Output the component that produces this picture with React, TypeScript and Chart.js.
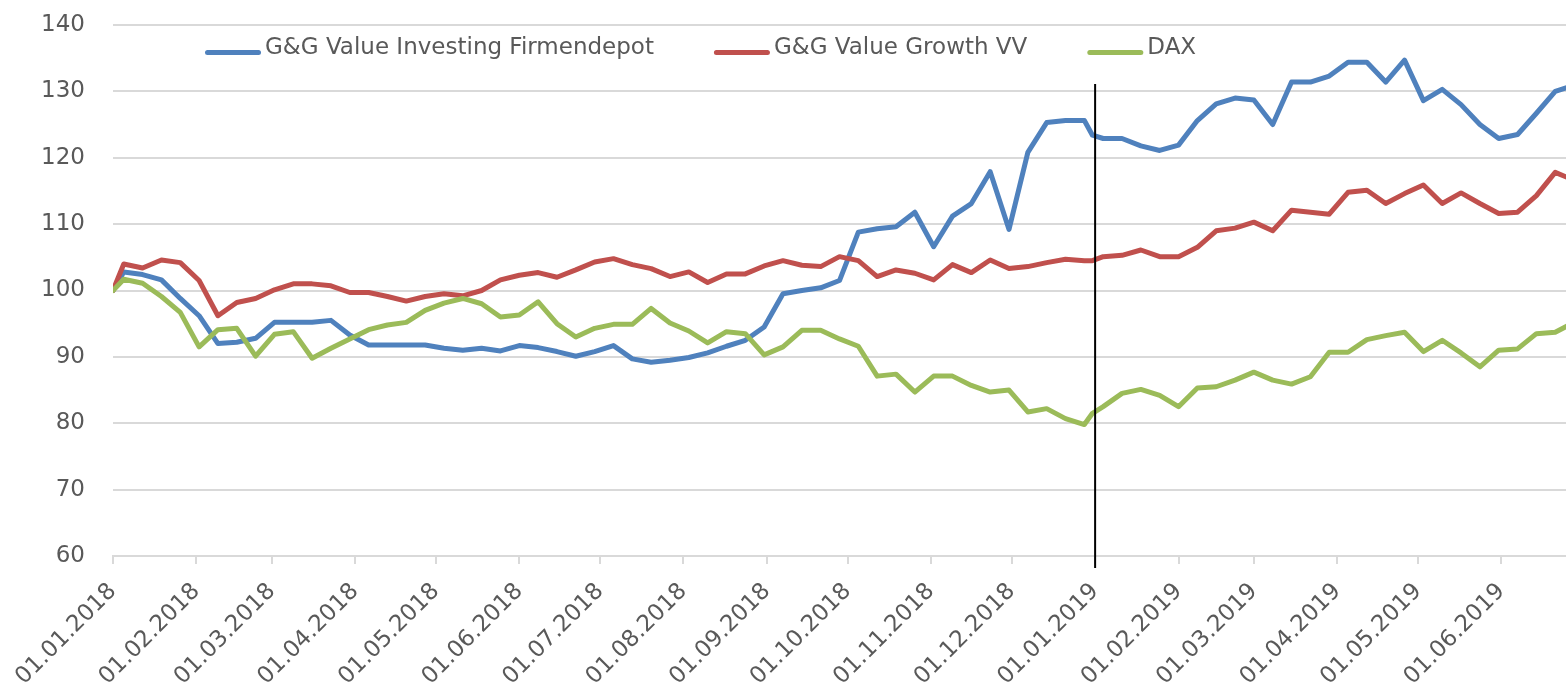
import React, { useEffect, useRef } from 'react';
import { Chart, registerables } from 'chart.js';

Chart.register(...registerables);

// Observation dates (dd.mm.yyyy)
const dates: string[] = [
  '01.01.2018', '05.01.2018', '12.01.2018', '19.01.2018', '26.01.2018',
  '02.02.2018', '09.02.2018', '16.02.2018', '23.02.2018',
  '02.03.2018', '09.03.2018', '16.03.2018', '23.03.2018', '30.03.2018',
  '06.04.2018', '13.04.2018', '20.04.2018', '27.04.2018',
  '04.05.2018', '11.05.2018', '18.05.2018', '25.05.2018',
  '01.06.2018', '08.06.2018', '15.06.2018', '22.06.2018', '29.06.2018',
  '06.07.2018', '13.07.2018', '20.07.2018', '27.07.2018',
  '03.08.2018', '10.08.2018', '17.08.2018', '24.08.2018', '31.08.2018',
  '07.09.2018', '14.09.2018', '21.09.2018', '28.09.2018',
  '05.10.2018', '12.10.2018', '19.10.2018', '26.10.2018',
  '02.11.2018', '09.11.2018', '16.11.2018', '23.11.2018', '30.11.2018',
  '07.12.2018', '14.12.2018', '21.12.2018', '28.12.2018', '31.12.2018',
  '04.01.2019', '11.01.2019', '18.01.2019', '25.01.2019',
  '01.02.2019', '08.02.2019', '15.02.2019', '22.02.2019',
  '01.03.2019', '08.03.2019', '15.03.2019', '22.03.2019', '29.03.2019',
  '05.04.2019', '12.04.2019', '19.04.2019', '26.04.2019',
  '03.05.2019', '10.05.2019', '17.05.2019', '24.05.2019', '31.05.2019',
  '07.06.2019', '14.06.2019', '21.06.2019', '28.06.2019',
];

const firmendepot: number[] = [
  100, 102.8, 102.4, 101.6, 98.8,
  96.2, 92.0, 92.2, 92.8,
  95.2, 95.2, 95.2, 95.5, 93.3,
  91.8, 91.8, 91.8, 91.8,
  91.3, 91.0, 91.3, 90.9,
  91.7, 91.4, 90.8, 90.1, 90.8,
  91.7, 89.7, 89.2, 89.5,
  89.9, 90.6, 91.6, 92.5, 94.5,
  99.5, 100.0, 100.4, 101.5,
  108.8, 109.3, 109.6, 111.8,
  106.6, 111.2, 113.1, 117.9, 109.2,
  120.8, 125.3, 125.6, 125.6, 123.4,
  122.9, 122.9, 121.8, 121.1,
  121.9, 125.6, 128.1, 129.0,
  128.7, 125.0, 131.4, 131.4, 132.3,
  134.4, 134.4, 131.4, 134.7,
  128.6, 130.3, 128.0, 125.0, 122.9,
  123.5, 126.7, 130.0, 130.9,
];

const growthVV: number[] = [
  100, 104.0, 103.4, 104.6, 104.2,
  101.5, 96.2, 98.2, 98.8,
  100.1, 101.0, 101.0, 100.7, 99.7,
  99.7, 99.1, 98.4, 99.1,
  99.5, 99.2, 100.0, 101.6,
  102.3, 102.7, 102.0, 103.1, 104.3,
  104.8, 103.9, 103.3, 102.1,
  102.8, 101.2, 102.5, 102.5, 103.7,
  104.5, 103.8, 103.6, 105.1,
  104.5, 102.1, 103.1, 102.6,
  101.6, 103.9, 102.7, 104.6, 103.3,
  103.6, 104.2, 104.7, 104.5, 104.5,
  105.1, 105.3, 106.1, 105.1,
  105.1, 106.5, 109.0, 109.4,
  110.3, 109.0, 112.1, 111.8, 111.5,
  114.8, 115.1, 113.1, 114.6,
  115.9, 113.1, 114.7, 113.1, 111.6,
  111.8, 114.3, 117.8, 116.6,
];

const dax: number[] = [
  100, 101.7, 101.1, 99.1, 96.7,
  91.5, 94.1, 94.3, 90.1,
  93.4, 93.8, 89.8, 91.3, 92.7,
  94.1, 94.8, 95.2, 97.0,
  98.1, 98.8, 98.0, 96.0,
  96.3, 98.3, 95.0, 93.0, 94.3,
  94.9, 94.9, 97.3, 95.1,
  93.9, 92.1, 93.8, 93.5, 90.3,
  91.5, 94.0, 94.0, 92.7,
  91.6, 87.1, 87.4, 84.7,
  87.1, 87.1, 85.7, 84.7, 85.0,
  81.7, 82.2, 80.7, 79.8, 81.5,
  82.5, 84.5, 85.1, 84.2,
  82.5, 85.3, 85.5, 86.5,
  87.7, 86.5, 85.9, 87.0, 90.7,
  90.7, 92.6, 93.2, 93.7,
  90.8, 92.5, 90.6, 88.5, 91.0,
  91.2, 93.5, 93.7, 95.2,
];

const seriesLabels: string[] = ['G&G Value Investing Firmendepot', 'G&G Value Growth VV', 'DAX'];
const seriesColors: string[] = ['#4f81bd', '#c0504d', '#9bbb59'];

const tickLabels: string[] = [
  '01.01.2018', '01.02.2018', '01.03.2018', '01.04.2018', '01.05.2018', '01.06.2018',
  '01.07.2018', '01.08.2018', '01.09.2018', '01.10.2018', '01.11.2018', '01.12.2018',
  '01.01.2019', '01.02.2019', '01.03.2019', '01.04.2019', '01.05.2019', '01.06.2019',
];

const axisStartDate = '01.01.2018';
const axisEndDate = '25.06.2019';
const markerDate = '01.01.2019';

const Y_MIN = 60;
const Y_MAX = 140;
const Y_STEP = 10;

const FONT = "'DejaVu Sans', sans-serif";
const TEXT_COLOR = '#595959';
const GRID_COLOR = '#d9d9d9';

function toUtc(s: string): number {
  const [d, m, y] = s.split('.').map(Number);
  return Date.UTC(y, m - 1, d);
}
function dayOffset(s: string): number {
  return Math.round((toUtc(s) - toUtc(axisStartDate)) / 86400000);
}

const tickDays = tickLabels.map(dayOffset);

const legendAndMarker = {
  id: 'legendAndMarker',
  afterDatasetsDraw(chart: any) {
    const { ctx, scales } = chart;
    const xm = scales.x.getPixelForValue(dayOffset(markerDate));
    ctx.save();
    ctx.strokeStyle = '#000000';
    ctx.lineWidth = 2;
    ctx.beginPath();
    ctx.moveTo(xm, 84);
    ctx.lineTo(xm, 568);
    ctx.stroke();
    ctx.restore();
  },
  afterDraw(chart: any) {
    const { ctx } = chart;
    ctx.save();
    ctx.font = `23px ${FONT}`;
    ctx.textBaseline = 'middle';
    ctx.textAlign = 'left';
    let x = 205;
    const yText = 48;
    const yLine = 52.5;
    const sample = 56;
    const gap = 4;
    const itemGap = 60;
    chart.data.datasets.forEach((ds: any) => {
      ctx.strokeStyle = ds.borderColor;
      ctx.lineWidth = 5;
      ctx.lineCap = 'round';
      ctx.beginPath();
      ctx.moveTo(x + 2.5, yLine);
      ctx.lineTo(x + sample - 2.5, yLine);
      ctx.stroke();
      ctx.fillStyle = TEXT_COLOR;
      const tx = x + sample + gap;
      ctx.fillText(ds.label, tx, yText);
      x = tx + ctx.measureText(ds.label).width + itemGap;
    });
    ctx.restore();
  },
};

export default function App() {
  const canvasRef = useRef<HTMLCanvasElement | null>(null);

  useEffect(() => {
    if (!canvasRef.current) return;
    const allSeries = [firmendepot, growthVV, dax];
    const chart = new Chart(canvasRef.current, {
      type: 'line',
      data: {
        datasets: allSeries.map((vals, k) => ({
          label: seriesLabels[k],
          data: vals.map((v, i) => ({ x: dayOffset(dates[i]), y: v })),
          borderColor: seriesColors[k],
          backgroundColor: seriesColors[k],
          borderWidth: 5,
          pointRadius: 0,
          pointHoverRadius: 0,
          tension: 0,
          borderJoinStyle: 'round' as const,
          borderCapStyle: 'round' as const,
          fill: false,
          order: 2 - k,
          clip: 0,
        })),
      },
      options: {
        animation: false,
        responsive: true,
        maintainAspectRatio: false,
        layout: { padding: { top: 25, left: 0, right: 0, bottom: 0 } },
        plugins: {
          legend: { display: false },
          tooltip: { enabled: false },
        },
        scales: {
          x: {
            type: 'linear',
            min: 0,
            max: dayOffset(axisEndDate),
            afterBuildTicks: (scale: any) => {
              scale.ticks = tickDays.map((v) => ({ value: v }));
            },
            afterFit: (scale: any) => {
              scale.height = 129;
              scale.paddingLeft = 0;
              scale.paddingRight = 0;
            },
            ticks: {
              autoSkip: false,
              minRotation: 45,
              maxRotation: 45,
              padding: 14,
              color: TEXT_COLOR,
              font: { family: FONT, size: 23 },
              callback: (value: any) => {
                const idx = tickDays.indexOf(Number(value));
                return idx >= 0 ? tickLabels[idx] : '';
              },
            },
            grid: {
              drawOnChartArea: false,
              drawTicks: true,
              tickLength: 8,
              color: GRID_COLOR,
              lineWidth: 2,
            },
            border: { display: true, color: GRID_COLOR, width: 2 },
          },
          y: {
            min: Y_MIN,
            max: Y_MAX,
            afterFit: (scale: any) => {
              scale.width = 113;
              scale.paddingTop = 0;
              scale.paddingBottom = 0;
            },
            ticks: {
              stepSize: Y_STEP,
              padding: 28,
              color: TEXT_COLOR,
              font: { family: FONT, size: 23 },
            },
            grid: {
              color: GRID_COLOR,
              lineWidth: 2,
              drawTicks: false,
            },
            border: { display: false },
          },
        },
      },
      plugins: [legendAndMarker],
    });
    return () => chart.destroy();
  }, []);

  return (
    <div style={{ position: 'absolute', left: 0, top: 0, width: 1566, height: 685, background: '#ffffff' }}>
      <canvas ref={canvasRef} />
    </div>
  );
}
